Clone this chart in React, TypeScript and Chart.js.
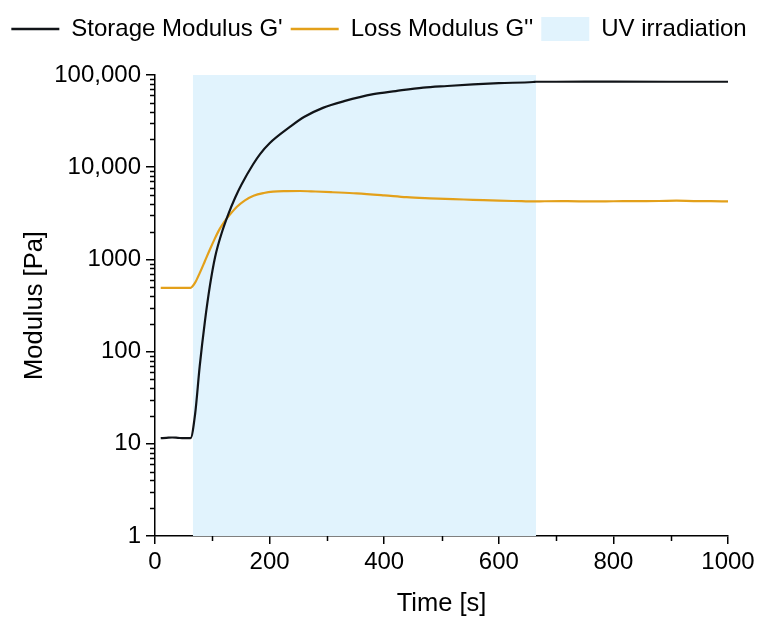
import React, { useEffect, useRef } from "react";
import { Chart, registerables } from "chart.js";

Chart.register(...registerables);

// ---- data ----
const timeStorage = [10, 20, 30, 40, 50, 62, 70, 78, 87, 96, 105, 116, 128, 140, 151, 171, 183, 200, 236, 260, 293, 330, 381, 420, 468, 510, 555, 600, 660, 665, 700, 800, 900, 1000];
const storageModulus = [11.5, 11.6, 11.7, 11.6, 11.5, 11.5, 21, 69, 210, 525, 1070, 1900, 3100, 4700, 6500, 10700, 13800, 18200, 27500, 35000, 44000, 52000, 62000, 67000, 73000, 76000, 79000, 81500, 84000, 84500, 84500, 84600, 84500, 84500];

const timeLoss = [10, 30, 50, 62, 70, 78, 87, 96, 104, 112, 120, 130, 143, 157, 172, 190, 206, 230, 253, 280, 310, 352, 400, 439, 480, 520, 555, 600, 640, 660, 680, 720, 760, 800, 840, 880, 910, 940, 970, 1000];
const lossModulus = [490, 490, 490, 492, 560, 710, 955, 1290, 1660, 2090, 2510, 3020, 3720, 4370, 4900, 5250, 5430, 5500, 5520, 5450, 5350, 5200, 4950, 4730, 4600, 4500, 4430, 4330, 4280, 4250, 4270, 4280, 4250, 4270, 4290, 4300, 4330, 4290, 4280, 4260];

const uvStart = 66;
const uvEnd = 665;
const uvTop = 100000;

const seriesNames = ["Storage Modulus G'", "Loss Modulus G''", "UV irradiation"];
const xMajorTicks = [0, 200, 400, 600, 800, 1000];
const xTickLabels = ["0", "200", "400", "600", "800", "1000"];
const xMinorTicks = [100, 300, 500, 700, 900];
const yMajorTicks = [1, 10, 100, 1000, 10000, 100000];
const yTickLabels = ["1", "10", "100", "1000", "10,000", "100,000"];
const yMinorFactors = [2, 3, 4, 5, 6, 7, 8, 9];

const FONT = "'Liberation Sans', Arial, sans-serif";
const FS = 24;
const TFS = 25.5;
const BLACK = "#111418";
const ORANGE = "#E3A01A";
const BLUE = "#E1F3FD";

const minorTicksPlugin = {
  id: "minorTicks",
  afterInit(chart: any) {
    const lg = chart.legend;
    if (lg && !lg.__patched) {
      const orig = lg.fit;
      lg.fit = function () {
        orig.call(this);
        this.height += 24;
      };
      lg.__patched = true;
    }
  },
  afterDraw(chart: any) {
    const { ctx, scales } = chart;
    const x = scales.x;
    const y = scales.y;
    ctx.save();
    ctx.strokeStyle = "#000";
    ctx.lineWidth = 1.5;
    ctx.beginPath();
    xMinorTicks.forEach((v) => {
      const px = Math.round(x.getPixelForValue(v)) + 0.5;
      ctx.moveTo(px, x.top);
      ctx.lineTo(px, x.top + 5);
    });
    yMajorTicks.slice(0, -1).forEach((d) => {
      yMinorFactors.forEach((m) => {
        const py = Math.round(y.getPixelForValue(d * m)) + 0.5;
        ctx.moveTo(y.right - 5, py);
        ctx.lineTo(y.right, py);
      });
    });
    ctx.stroke();
    ctx.restore();
  },
};

export default function App() {
  const ref = useRef<HTMLCanvasElement | null>(null);

  useEffect(() => {
    if (!ref.current) return;
    const chart = new Chart(ref.current, {
      type: "line",
      data: {
        datasets: [
          {
            label: seriesNames[0],
            data: timeStorage.map((t, i) => ({ x: t, y: storageModulus[i] })),
            borderColor: BLACK,
            backgroundColor: BLACK,
            borderWidth: 2.2,
            pointRadius: 0,
            cubicInterpolationMode: "monotone",
            fill: false,
          },
          {
            label: seriesNames[1],
            data: timeLoss.map((t, i) => ({ x: t, y: lossModulus[i] })),
            borderColor: ORANGE,
            backgroundColor: ORANGE,
            borderWidth: 2.2,
            pointRadius: 0,
            cubicInterpolationMode: "monotone",
            fill: false,
          },
          {
            label: seriesNames[2],
            data: [
              { x: uvStart, y: uvTop },
              { x: uvEnd, y: uvTop },
            ],
            borderColor: BLUE,
            backgroundColor: BLUE,
            borderWidth: 0,
            pointRadius: 0,
            fill: "start",
          },
        ],
      },
      options: {
        responsive: false,
        animation: false,
        layout: { padding: { left: 0, right: 0, top: 9, bottom: 0 } },
        plugins: {
          tooltip: { enabled: false },
          legend: {
            position: "top",
            labels: {
              usePointStyle: true,
              pointStyleWidth: 48,
              padding: 8,
              color: "#000",
              font: { family: FONT, size: FS },
              generateLabels: (ch: any) =>
                ch.data.datasets.map((ds: any, i: number) => ({
                  text: ds.label,
                  datasetIndex: i,
                  fillStyle: i === 2 ? BLUE : "rgba(0,0,0,0)",
                  strokeStyle: i === 2 ? BLUE : ds.borderColor,
                  lineWidth: i === 2 ? 0 : 2.5,
                  pointStyle: i === 2 ? "rect" : "line",
                  fontColor: "#000",
                  hidden: false,
                })),
            },
          },
        },
        scales: {
          x: {
            type: "linear",
            min: 0,
            max: 1000,
            afterBuildTicks: (s: any) => {
              s.ticks = xMajorTicks.map((v) => ({ value: v }));
            },
            afterFit: (s: any) => {
              s.height = 81;
              s.paddingRight = 30;
            },
            ticks: {
              color: "#000",
              font: { family: FONT, size: FS },
              padding: 4,
              maxRotation: 0,
              callback: (v: any) => {
                const i = xMajorTicks.indexOf(Number(v));
                return i >= 0 ? xTickLabels[i] : "";
              },
            },
            grid: {
              display: true,
              drawOnChartArea: false,
              drawTicks: true,
              tickLength: 8,
              color: "#000",
              lineWidth: 1.5,
            },
            border: { display: true, color: "#000", width: 1.5 },
            title: {
              display: true,
              text: "Time [s]",
              color: "#000",
              font: { family: FONT, size: TFS, lineHeight: 1 },
              padding: { top: 0, bottom: 0 },
            },
          },
          y: {
            type: "logarithmic",
            min: 1,
            max: 100000,
            afterBuildTicks: (s: any) => {
              s.ticks = yMajorTicks.map((v) => ({ value: v }));
            },
            afterFit: (s: any) => {
              s.width = 155;
            },
            ticks: {
              color: "#000",
              font: { family: FONT, size: FS },
              padding: 5,
              callback: (v: any) => {
                const i = yMajorTicks.indexOf(Number(v));
                return i >= 0 ? yTickLabels[i] : "";
              },
            },
            grid: {
              display: true,
              drawOnChartArea: false,
              drawTicks: true,
              tickLength: 9,
              color: "#000",
              lineWidth: 1.5,
            },
            border: { display: true, color: "#000", width: 1.5 },
            title: {
              display: true,
              text: "Modulus [Pa]",
              color: "#000",
              font: { family: FONT, size: TFS, lineHeight: 1 },
              padding: { top: 22, bottom: 0 },
            },
          },
        },
      },
      plugins: [minorTicksPlugin],
    });
    return () => chart.destroy();
  }, []);

  return (
    <div style={{ position: "fixed", left: 0, top: 0, width: 758, height: 617, background: "#fff" }}>
      <canvas ref={ref} width={758} height={617} style={{ display: "block" }} />
    </div>
  );
}
